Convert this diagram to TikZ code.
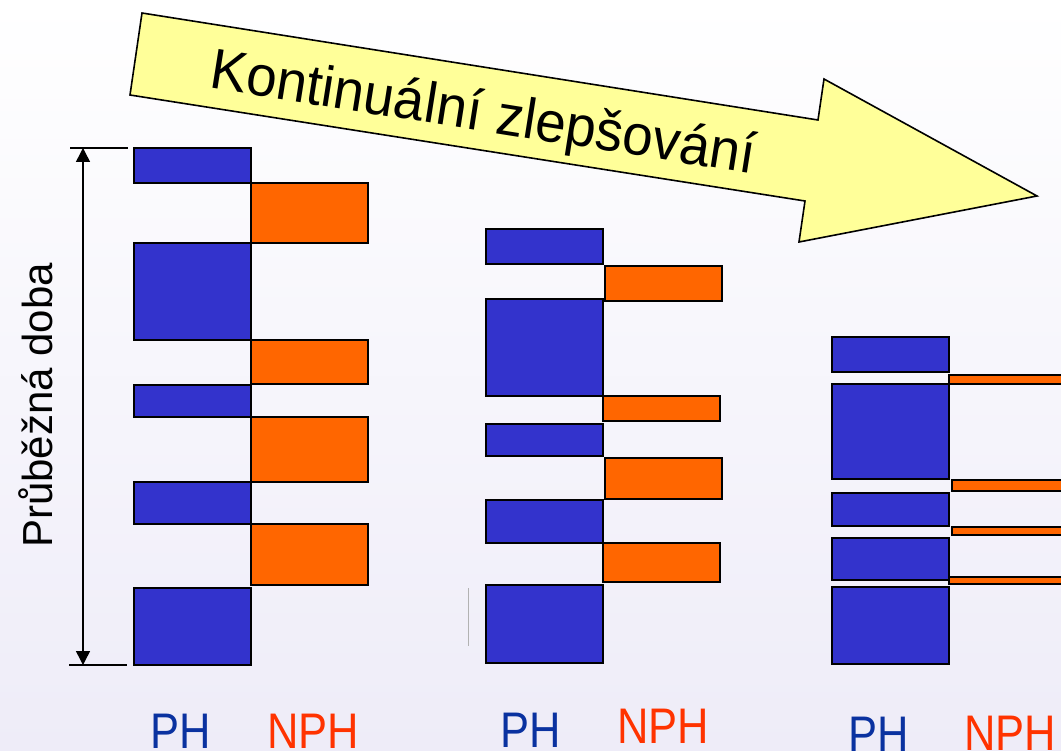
\documentclass[tikz,border=0pt]{standalone}
\usepackage{fontspec}
\setmainfont{Liberation Sans}
\usetikzlibrary{arrows.meta}
\definecolor{phblue}{RGB}{51,51,204}
\definecolor{nphorange}{RGB}{255,102,0}
\definecolor{phtext}{RGB}{10,50,160}
\definecolor{nphtext}{RGB}{255,51,0}
\definecolor{arrowyellow}{RGB}{255,255,153}
\definecolor{bgbottom}{RGB}{238,236,248}
\tikzset{
  phbox/.style={fill=phblue, draw=black, line width=1.8pt},
  nphbox/.style={fill=nphorange, draw=black, line width=1.8pt},
  bigarrow/.style={fill=arrowyellow, draw=black, line width=1.6pt, line join=miter},
  dimline/.style={draw=black, line width=1.5pt},
  phlabel/.style={text=phtext, inner sep=0pt, anchor=base west, xscale=0.87, font=\fontsize{50}{55}\selectfont},
  nphlabel/.style={text=nphtext, inner sep=0pt, anchor=base west, xscale=0.87, font=\fontsize{50}{55}\selectfont}
}
\begin{document}
\begin{tikzpicture}[x=1pt,y=-1pt]
\useasboundingbox (0,0) rectangle (1061,751);
\clip (0,0) rectangle (1061,751);
\shade[top color=white, bottom color=bgbottom] (0,0) rectangle (1061,751);

% big arrow
\draw[bigarrow] (142,13) -- (818,120) -- (824,79) -- (1037,196) -- (799,242) -- (805,201) -- (130,95) -- cycle;
\node[rotate=-9, inner sep=0pt, xscale=0.96, font=\fontsize{57}{60}\selectfont] (kz) at (483,116) {Kontinuální zlepšování};

% dimension
\coordinate (dimtop) at (83,148);
\coordinate (dimbot) at (83,665);
\coordinate (tickTl) at (70,148);
\coordinate (tickTr) at (128,148);
\coordinate (tickBl) at (69,665);
\coordinate (tickBr) at (127,665);
\draw[dimline] (tickTl) -- (tickTr);
\draw[dimline] (tickBl) -- (tickBr);
\draw[dimline, {Triangle[length=14pt,width=14pt]}-{Triangle[length=14pt,width=14pt]}] (dimtop) -- (dimbot);
\node[rotate=90, anchor=base west, inner sep=0pt, font=\fontsize{42}{48}\selectfont] (pd) at (52,548) {Průběžná doba};

% left column
\draw[phbox] (134,148) rectangle (251,183);
\draw[nphbox] (251,183) rectangle (368,243);
\draw[phbox] (134,243) rectangle (251,340);
\draw[nphbox] (251,340) rectangle (368,384);
\draw[phbox] (134,385) rectangle (251,417);
\draw[nphbox] (251,417) rectangle (368,482);
\draw[phbox] (134,482) rectangle (251,524);
\draw[nphbox] (251,524) rectangle (368,585);
\draw[phbox] (134,588) rectangle (251,665);

% middle column
\draw[gray!60, line width=0.8pt] (468,588) -- (468,646);
\draw[phbox] (486,229) rectangle (603,264);
\draw[nphbox] (605,266) rectangle (722,301);
\draw[phbox] (486,299) rectangle (603,396);
\draw[nphbox] (603,396) rectangle (720,421);
\draw[phbox] (486,424) rectangle (603,456);
\draw[nphbox] (605,458) rectangle (722,499);
\draw[phbox] (486,500) rectangle (603,543);
\draw[nphbox] (603,543) rectangle (720,582);
\draw[phbox] (486,585) rectangle (603,663);

% right column
\draw[phbox] (832,337) rectangle (949,372);
\draw[nphbox] (949,375) rectangle (1070,384);
\draw[phbox] (832,384) rectangle (949,479);
\draw[nphbox] (952,480) rectangle (1070,491);
\draw[phbox] (832,493) rectangle (949,526);
\draw[nphbox] (952,527) rectangle (1070,535);
\draw[phbox] (832,538) rectangle (949,580);
\draw[nphbox] (949,577) rectangle (1070,584);
\draw[phbox] (832,587) rectangle (949,664);

% labels
\node[phlabel] (ph1) at (150,748) {PH};
\node[nphlabel] (nph1) at (267,748) {NPH};
\node[phlabel] (ph2) at (500,747) {PH};
\node[nphlabel] (nph2) at (617,743) {NPH};
\node[phlabel] (ph3) at (848,751) {PH};
\node[nphlabel] (nph3) at (964,750) {NPH};
\end{tikzpicture}
\end{document}
